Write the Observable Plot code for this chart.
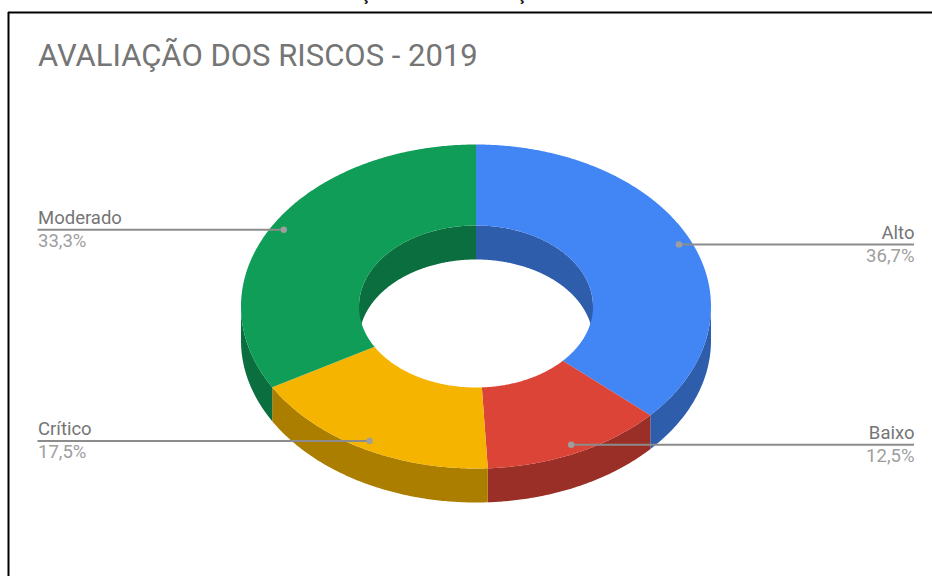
<!DOCTYPE html>
<html>
<head>
<meta charset="utf-8">
<style>html,body{margin:0;padding:0;background:#fff;overflow:hidden}svg{display:block}</style>
<script src="https://cdn.jsdelivr.net/npm/d3@7"></script>
<script src="https://cdn.jsdelivr.net/npm/@observablehq/plot@0.6"></script>
</head>
<body>
<script>
const titleText = "AVALIAÇÃO DOS RISCOS - 2019";
const categories = ["Alto", "Baixo", "Crítico", "Moderado"];
const percents = [36.7, 12.5, 17.5, 33.3];
const percentLabels = ["36,7%", "12,5%", "17,5%", "33,3%"];
const faceColors = ["#4285f4", "#db4437", "#f4b400", "#0f9d58"];
const wallColors = ["#2e5dab", "#992f26", "#ab7e00", "#0a6e3e"];

// Layout of the tilted ring, in the pixel space of the identity x/y scales
const W = 932, H = 576;
const cx = 475.5, cy = 306, rxOut = 235, ryOut = 162, rxIn = 117, ryIn = 81, depth = 34;
const labelLeft = 37.5, labelRight = 914, dotRadius = 0.945;

const total = d3.sum(percents);
let run = 0;
const slices = categories.map((name, i) => {
  const a0 = run / total * 360; run += percents[i];
  const a1 = run / total * 360;
  return {name, a0, a1, mid: (a0 + a1) / 2, face: faceColors[i], wall: wallColors[i], label: percentLabels[i]};
});
const rad = d => d * Math.PI / 180;
const pt = (a, rx, ry, dy = 0) => ({x: cx + rx * Math.sin(rad(a)), y: cy - ry * Math.cos(rad(a)) + dy});
const arc = (a0, a1) => { const n = Math.max(2, Math.ceil((a1 - a0) * 2)); return d3.range(n + 1).map(k => a0 + (a1 - a0) * k / n); };

const shapes = [];
function add(key, color, points) { points.forEach(p => shapes.push({...p, key, color})); }
function ribbon(key, color, a0, a1, rx, ry) {
  if (a1 <= a0) return;
  const as = arc(a0, a1);
  add(key, color, [...as.map(a => pt(a, rx, ry)), ...as.slice().reverse().map(a => pt(a, rx, ry, depth))]);
}
slices.forEach(s => {
  // hole wall seen through the back of the ring
  ribbon(s.name + "-in1", s.wall, Math.max(s.a0, 0), Math.min(s.a1, 90), rxIn, ryIn);
  ribbon(s.name + "-in2", s.wall, Math.max(s.a0, 270), Math.min(s.a1, 360), rxIn, ryIn);
});
slices.forEach(s => {
  // outer wall along the front of the ring
  ribbon(s.name + "-out", s.wall, Math.max(s.a0, 90), Math.min(s.a1, 270), rxOut, ryOut);
});
slices.forEach(s => {
  const as = arc(s.a0, s.a1);
  add(s.name + "-top", s.face, [...as.map(a => pt(a, rxOut, ryOut)), ...as.slice().reverse().map(a => pt(a, rxIn, ryIn))]);
});

const leaders = slices.map(s => {
  const p = pt(s.mid, rxOut * dotRadius, ryOut * dotRadius);
  const left = p.x < cx;
  return {...s, ...p, left, edge: left ? labelLeft : labelRight};
});
const leftLabels = leaders.filter(d => d.left);
const rightLabels = leaders.filter(d => !d.left);
const labelMarks = (rows, anchor) => [
  Plot.text(rows, {x: "edge", y: d => d.y - 11.5, text: "name", textAnchor: anchor, fontSize: 18.5, fill: "#757575"}),
  Plot.text(rows, {x: "edge", y: d => d.y + 11.5, text: "label", textAnchor: anchor, fontSize: 18.5, fill: "#9e9e9e"})
];

const chart = Plot.plot({
  width: W, height: H,
  margin: 0,
  x: {domain: [0, W], range: [0, W], axis: null},
  y: {domain: [0, H], range: [0, H], axis: null},
  style: {fontFamily: "Roboto", background: "#fff"},
  marks: [
    // cut-off text of the page above the chart
    Plot.text(["ç", "ç"], {x: [365, 521], y: [-7, -7], text: d => d, fontSize: 19, fontWeight: 500, fill: "#111"}),
    Plot.ruleY([12], {x1: 8, x2: W, stroke: "#000", strokeWidth: 2}),
    Plot.ruleX([8], {y1: 12, y2: H, stroke: "#000", strokeWidth: 2}),
    Plot.text([titleText], {x: labelLeft, y: 56, text: d => d, textAnchor: "start", fontSize: 31, fill: "#757575"}),
    Plot.line(shapes, {x: "x", y: "y", z: "key", fill: "color", stroke: "none"}),
    Plot.ruleY(leaders, {y: "y", x1: "x", x2: "edge", stroke: "#8c8c8c", strokeWidth: 2}),
    Plot.dot(leaders, {x: "x", y: "y", r: 3.2, fill: "#9e9e9e", stroke: "none"}),
    ...labelMarks(leftLabels, "start"),
    ...labelMarks(rightLabels, "end")
  ]
});
document.body.appendChild(chart);
</script>
</body>
</html>
